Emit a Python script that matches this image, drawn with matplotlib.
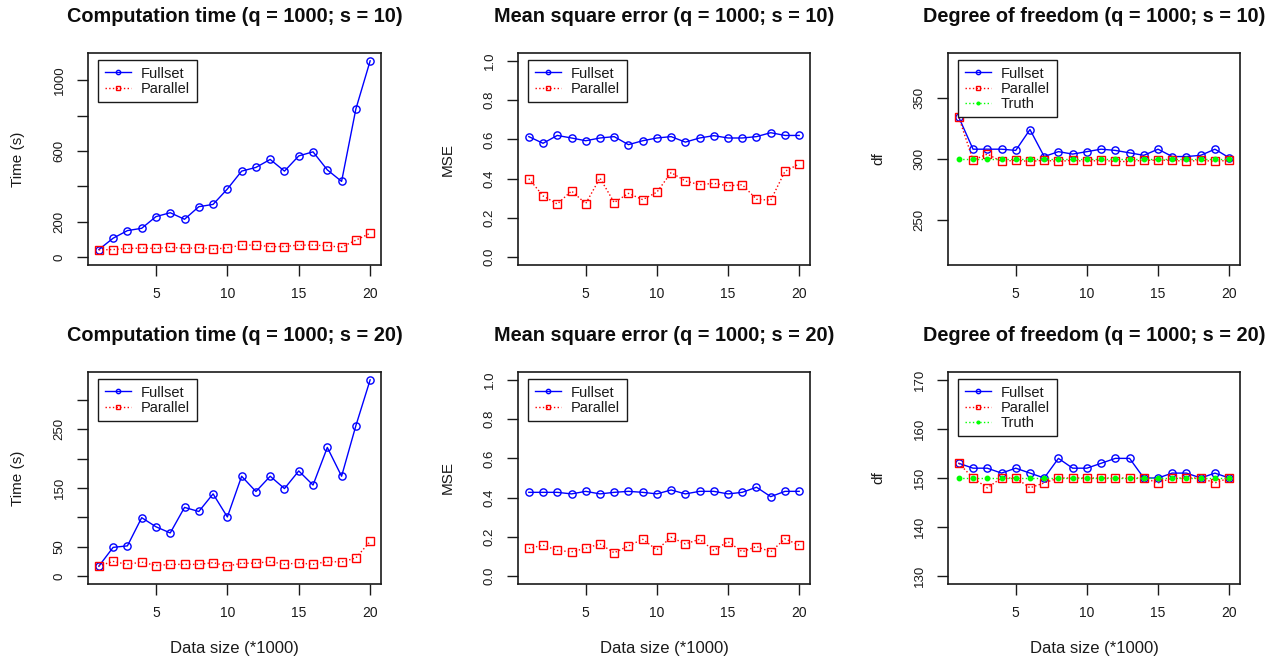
import matplotlib
matplotlib.use("Agg")
import matplotlib.pyplot as plt
import numpy as np

plt.rcParams['font.family'] = ['Liberation Sans', 'DejaVu Sans']

x = list(range(1, 21))

# Top row (s = 10)
time10_full = [43, 107, 150, 163, 229, 251, 214, 285, 298, 385, 486, 507, 552, 486, 572, 595, 493, 428, 837, 1109]
time10_par = [41, 43, 49, 51, 49, 56, 49, 53, 45, 53, 68, 68, 60, 60, 68, 68, 64, 56, 96, 135]
mse10_full = [0.614, 0.580, 0.620, 0.607, 0.593, 0.607, 0.614, 0.573, 0.593, 0.607,
              0.614, 0.586, 0.607, 0.619, 0.607, 0.607, 0.614, 0.634, 0.620, 0.620]
mse10_par = [0.400, 0.312, 0.271, 0.337, 0.273, 0.403, 0.278, 0.325, 0.293, 0.331,
             0.431, 0.388, 0.369, 0.376, 0.363, 0.369, 0.295, 0.290, 0.437, 0.475]
df10_full = [334, 308, 308, 308, 307, 324, 302, 306, 304, 306, 308, 307, 305, 303, 308, 302, 302, 303, 308, 301]
df10_par = [334, 299, 304, 298, 299, 298, 299, 298, 299, 298, 299, 298, 298, 299, 299, 299, 298, 299, 298, 299]
df10_truth = [300] * 20

# Bottom row (s = 20)
time20_full = [17, 49, 51.5, 99.5, 84, 73.5, 117, 110, 140, 100.7, 170, 144, 170, 149, 179, 155, 219, 170, 256, 334]
time20_par = [17.5, 25, 20, 24, 18, 20, 20, 20, 23, 17, 22, 22, 25, 20, 22.6, 20, 25, 24, 31, 59]
mse20_full = [0.427, 0.427, 0.427, 0.419, 0.432, 0.419, 0.427, 0.432, 0.427, 0.419,
              0.439, 0.419, 0.432, 0.432, 0.419, 0.427, 0.453, 0.405, 0.432, 0.432]
mse20_par = [0.141, 0.158, 0.131, 0.124, 0.142, 0.164, 0.119, 0.154, 0.188, 0.134,
             0.198, 0.164, 0.188, 0.131, 0.176, 0.124, 0.151, 0.124, 0.190, 0.158]
df20_full = [153, 152, 152, 151, 152, 151, 150, 154, 152, 152, 153, 154, 154, 150, 150, 151, 151, 150, 151, 150]
df20_par = [153, 150, 148, 150, 150, 148, 149, 150, 150, 150, 150, 150, 150, 150, 149, 150, 150, 150, 149, 150]
df20_truth = [150] * 20

titles = [
    "Computation time (q = 1000; s = 10)", "Mean square error (q = 1000; s = 10)", "Degree of freedom (q = 1000; s = 10)",
    "Computation time (q = 1000; s = 20)", "Mean square error (q = 1000; s = 20)", "Degree of freedom (q = 1000; s = 20)",
]
ylabels = ["Time (s)", "MSE", "df"]
xlabel = "Data size (*1000)"

W, H = 1278, 661
fig = plt.figure(figsize=(W / 100, H / 100), dpi=100)

cols = [(88, 381), (518, 810), (948, 1240)]
rows = [(53, 265), (372, 584)]

def make_ax(r, c):
    x0, x1 = cols[c]
    y0, y1 = rows[r]
    return fig.add_axes([x0 / W, (H - y1) / H, (x1 - x0) / W, (y1 - y0) / H])

BLUE = '#0000FF'
RED = '#FF0000'
GREEN = '#00FF00'
INK = '#1a1a1a'

def rext(lo, hi):
    d = hi - lo
    return lo - 0.04 * d, hi + 0.04 * d

def style(ax, title, ylabel, yticks, ylabels_txt, ylim, show_xlabel):
    ax.set_xlim(*rext(1, 20))
    ax.set_ylim(*rext(*ylim))
    ax.set_xticks([5, 10, 15, 20])
    ax.set_yticks(yticks)
    ax.set_yticklabels(ylabels_txt, rotation=90, va='center')
    ax.tick_params(axis='both', direction='out', length=8, width=1, labelsize=10, colors=INK)
    ax.tick_params(axis='x', pad=8)
    ax.tick_params(axis='y', pad=8, labelsize=9.5)
    for sp in ax.spines.values():
        sp.set_linewidth(1.2)
        sp.set_color(INK)
    ax.text(0.5, 1 + 36 / 212, title, transform=ax.transAxes, ha='center', va='center',
            fontsize=14.3, fontweight='bold', color='#0d0d0d')
    ax.set_ylabel(ylabel, fontsize=11, color=INK)
    ax.yaxis.label.set_verticalalignment('center')
    ax.yaxis.set_label_coords(-70 / 293, 0.5)
    if show_xlabel:
        ax.set_xlabel(xlabel, fontsize=12, color=INK)
        ax.xaxis.label.set_verticalalignment('center')
        ax.xaxis.set_label_coords(0.5, -64 / 212)

def plot_pair(ax, full, par):
    ax.plot(x, full, color=BLUE, lw=1.0, marker='o', ms=5.2, mfc='none', mec=BLUE, mew=1.0, label='Fullset')
    ax.plot(x, par, color=RED, lw=1.0, ls=':', marker='s', ms=6, mfc='none', mec=RED, mew=1.0, label='Parallel')

def legend(ax):
    leg = ax.legend(loc='upper left', bbox_to_anchor=(10 / 293, 1 - 7 / 212), borderaxespad=0,
                    fancybox=False, edgecolor=INK, framealpha=1, fontsize=10.5,
                    handlelength=1.8, handletextpad=0.7, markerscale=0.6, borderpad=0.45,
                    labelspacing=0.08)
    leg.get_frame().set_linewidth(1.0)
    for t in leg.get_texts():
        t.set_color(INK)

data = [
    (time10_full, time10_par, None),
    (mse10_full, mse10_par, None),
    (df10_full, df10_par, df10_truth),
    (time20_full, time20_par, None),
    (mse20_full, mse20_par, None),
    (df20_full, df20_par, df20_truth),
]

yspec = [
    ([0, 200, 400, 600, 800, 1000], ['0', '200', '', '600', '', '1000'], (0, max(time10_full))),
    ([0, 0.2, 0.4, 0.6, 0.8, 1.0], ['0.0', '0.2', '0.4', '0.6', '0.8', '1.0'], (0, 1)),
    ([250, 300, 350], ['250', '300', '350'], (220, 380)),
    ([0, 50, 100, 150, 200, 250, 300], ['0', '50', '', '150', '', '250', ''], (0, max(time20_full))),
    ([0, 0.2, 0.4, 0.6, 0.8, 1.0], ['0.0', '0.2', '0.4', '0.6', '0.8', '1.0'], (0, 1)),
    ([130, 140, 150, 160, 170], ['130', '140', '150', '160', '170'], (130, 170)),
]

for i in range(6):
    r, c = divmod(i, 3)
    ax = make_ax(r, c)
    full, par, truth = data[i]
    plot_pair(ax, full, par)
    if truth is not None:
        ax.plot(x, truth, color=GREEN, lw=1.0, ls=':', marker='o', ms=3.2, mfc=GREEN, mec=GREEN, label='Truth')
    yt, ytl, yl = yspec[i]
    style(ax, titles[i], ylabels[c], yt, ytl, yl, r == 1)
    legend(ax)

fig.savefig('out.png', dpi=100)
